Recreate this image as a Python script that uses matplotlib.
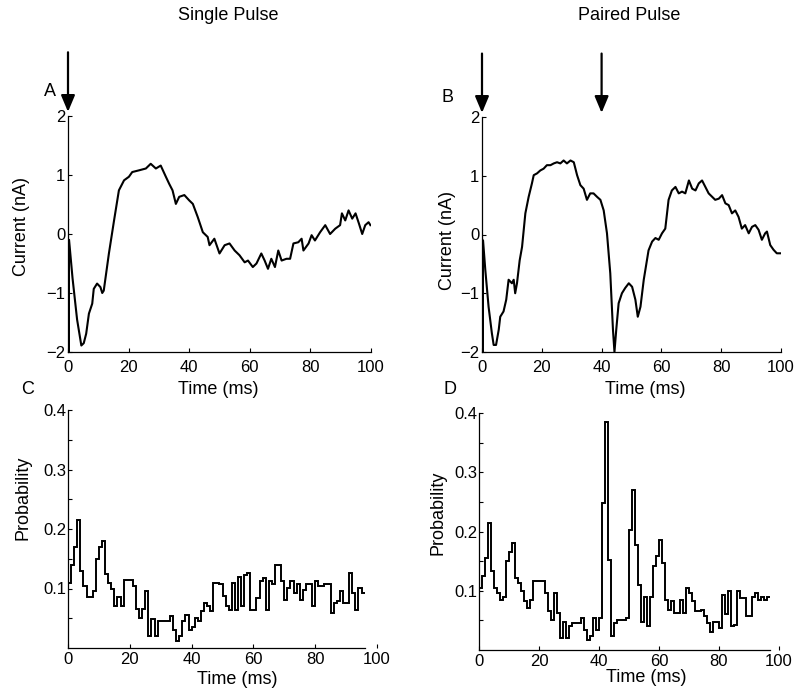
import numpy as np
import matplotlib
matplotlib.use('Agg')
import matplotlib.pyplot as plt

plt.rcParams['font.family'] = ['Liberation Sans', 'DejaVu Sans']

# ---- data ----
# A: single pulse current trace (ms, nA)
single_t = [0, 0.15, 0.35, 1.5, 3.0, 4.4, 5.2, 6.0, 6.9, 8.0, 8.5, 9.6, 10.7, 11.3, 11.8,
            13.5, 15.2, 16.8, 18.5, 20.1, 21.2, 23.5, 25.7, 27.3, 29.0, 30.6, 32.3, 33.4,
            34.5, 35.6, 36.7, 38.4, 40.0, 41.2, 42.8, 44.5, 46.1, 46.7, 48.3, 50.0, 51.7,
            53.3, 55.0, 56.6, 58.3, 59.4, 61.0, 62.2, 63.8, 64.9, 66.0, 67.1, 68.3, 69.4,
            70.5, 72.1, 73.3, 74.4, 76.0, 77.1, 77.7, 79.4, 80.4, 81.5, 83.2, 84.9, 86.5,
            88.2, 89.8, 90.4, 91.5, 92.6, 93.8, 94.9, 96.0, 97.1, 98.1, 99.2, 99.8]
single_i = [0, -2.0, -0.1, -0.75, -1.45, -1.89, -1.85, -1.69, -1.35, -1.18, -0.93, -0.84,
            -0.90, -1.00, -0.96, -0.33, 0.23, 0.74, 0.91, 0.97, 1.05, 1.08, 1.11, 1.19, 1.11,
            1.16, 0.97, 0.85, 0.74, 0.51, 0.63, 0.66, 0.57, 0.51, 0.29, 0.03, -0.05, -0.19,
            -0.08, -0.33, -0.19, -0.16, -0.28, -0.36, -0.48, -0.45, -0.56, -0.50, -0.33,
            -0.45, -0.59, -0.42, -0.56, -0.28, -0.45, -0.42, -0.42, -0.16, -0.14, -0.08,
            -0.28, -0.16, -0.02, -0.11, 0.03, 0.15, 0.0, 0.09, 0.15, 0.35, 0.23, 0.40, 0.26,
            0.35, 0.18, 0.0, 0.15, 0.20, 0.15]

# B: paired pulse current trace (ms, nA)
paired_t = [0, 0.15, 0.35, 1.1, 2.2, 3.3, 3.9, 4.7, 5.6, 6.1, 7.2, 8.1, 8.9, 10.0, 10.6,
            11.1, 11.7, 12.6, 13.4, 14.5, 15.6, 16.7, 17.3, 18.4, 19.5, 20.6, 21.7, 22.9,
            24.0, 25.1, 26.2, 27.3, 28.4, 29.6, 30.7, 31.8, 32.9, 34.0, 35.1, 36.2, 37.3,
            38.5, 39.6, 40.7, 41.8, 42.9, 43.8, 44.3, 44.9, 45.7, 46.8, 47.9, 49.1, 50.2,
            51.3, 52.1, 53.0, 54.1, 55.7, 56.9, 58.0, 59.1, 60.2, 61.3, 62.4, 63.5, 64.7,
            65.8, 66.9, 68.0, 69.2, 70.3, 71.4, 72.5, 73.6, 74.7, 75.8, 77.0, 78.0, 79.2,
            80.3, 81.4, 82.5, 83.6, 84.7, 85.8, 86.9, 88.0, 89.2, 90.3, 91.4, 92.5, 93.6,
            94.7, 95.3, 96.4, 97.5, 98.6, 99.8]
paired_i = [0, -2.0, -0.1, -0.60, -1.23, -1.68, -1.88, -1.88, -1.62, -1.40, -1.31, -1.11,
            -0.77, -0.83, -0.77, -1.00, -0.83, -0.44, -0.21, 0.36, 0.64, 0.87, 1.01, 1.04,
            1.09, 1.12, 1.18, 1.18, 1.21, 1.23, 1.21, 1.26, 1.21, 1.26, 1.23, 1.01, 0.84,
            0.78, 0.59, 0.70, 0.70, 0.64, 0.59, 0.41, 0.02, -0.66, -1.62, -2.0, -1.62,
            -1.17, -1.00, -0.91, -0.83, -0.89, -1.11, -1.40, -1.23, -0.77, -0.27, -0.12,
            -0.06, -0.09, 0.02, 0.10, 0.59, 0.75, 0.81, 0.70, 0.73, 0.70, 0.92, 0.78, 0.75,
            0.87, 0.92, 0.81, 0.70, 0.64, 0.59, 0.61, 0.67, 0.53, 0.50, 0.36, 0.41, 0.30,
            0.10, 0.16, 0.02, 0.13, 0.16, 0.08, -0.09, 0.02, 0.05, -0.18, -0.26, -0.32, -0.32]

# stimulus times (ms)
stim_single = [0]
stim_paired = [0, 40]

# C: spike probability, single pulse, 1 ms bins from 0 ms
single_prob = [0.110, 0.140, 0.170, 0.215, 0.130, 0.105, 0.085, 0.085, 0.095, 0.150,
               0.170, 0.180, 0.125, 0.110, 0.100, 0.070, 0.085, 0.070, 0.115, 0.115,
               0.115, 0.105, 0.065, 0.050, 0.065, 0.095, 0.020, 0.048, 0.020, 0.045,
               0.045, 0.045, 0.045, 0.053, 0.031, 0.011, 0.020, 0.045, 0.056, 0.031,
               0.036, 0.050, 0.045, 0.062, 0.076, 0.070, 0.062, 0.110, 0.110, 0.107,
               0.087, 0.070, 0.064, 0.109, 0.064, 0.120, 0.070, 0.123, 0.126, 0.064,
               0.064, 0.084, 0.112, 0.118, 0.064, 0.112, 0.107, 0.140, 0.140, 0.112,
               0.081, 0.101, 0.112, 0.093, 0.107, 0.081, 0.098, 0.107, 0.107, 0.070,
               0.112, 0.104, 0.104, 0.107, 0.107, 0.059, 0.076, 0.079, 0.095, 0.076,
               0.076, 0.126, 0.093, 0.064, 0.101, 0.093]

# D: spike probability, paired pulse, 1 ms bins from 0 ms
paired_prob = [0.105, 0.125, 0.155, 0.215, 0.133, 0.105, 0.096, 0.085, 0.090, 0.150,
               0.165, 0.180, 0.121, 0.113, 0.099, 0.082, 0.071, 0.085, 0.116, 0.116,
               0.116, 0.116, 0.096, 0.065, 0.051, 0.096, 0.062, 0.020, 0.048, 0.020,
               0.040, 0.046, 0.046, 0.046, 0.054, 0.034, 0.017, 0.023, 0.054, 0.034,
               0.054, 0.248, 0.385, 0.152, 0.023, 0.046, 0.051, 0.051, 0.051, 0.054,
               0.203, 0.270, 0.178, 0.110, 0.048, 0.090, 0.040, 0.090, 0.141, 0.158,
               0.186, 0.147, 0.085, 0.068, 0.082, 0.062, 0.062, 0.085, 0.062, 0.104,
               0.096, 0.082, 0.065, 0.065, 0.068, 0.057, 0.046, 0.031, 0.048, 0.048,
               0.037, 0.093, 0.060, 0.099, 0.040, 0.043, 0.099, 0.088, 0.088, 0.057,
               0.057, 0.090, 0.096, 0.085, 0.090, 0.085, 0.090]

time_ticks = [0, 20, 40, 60, 80, 100]

# ---- layout in pixels ----
W, H = 799, 696
fig = plt.figure(figsize=(W / 100, H / 100), dpi=100)


def box(l, t, r, b):
    return [l / W, 1 - b / H, (r - l) / W, (b - t) / H]


def fx(px):
    return px / W


def fy(py):
    return 1 - py / H


def style(ax):
    for s in ['top', 'right']:
        ax.spines[s].set_visible(False)
    for s in ['left', 'bottom']:
        ax.spines[s].set_linewidth(0.9)
    ax.tick_params(direction='in', length=3, width=0.8, labelsize=12)


axA = fig.add_axes(box(68, 116, 371, 352))
axB = fig.add_axes(box(482, 117, 781, 352))
axC = fig.add_axes(box(68, 410, 377, 648))
axD = fig.add_axes(box(479, 413, 779, 650))

# current traces
for ax, t, i, stims in [(axA, single_t, single_i, stim_single),
                        (axB, paired_t, paired_i, stim_paired)]:
    style(ax)
    ax.plot(t, i, color='black', lw=1.5)
    ax.set_xlim(0, 100)
    ax.set_ylim(-2, 2)
    ax.set_xticks(time_ticks)
    ax.set_yticks([-2, -1, 0, 1, 2])
    ax.set_yticklabels(['\u22122', '\u22121', '0', '1', '2'])
    ax.tick_params(axis='x', pad=6)
    ax.tick_params(axis='y', pad=2)
    for s in stims:
        ax.annotate('', xy=(s, 2.07), xytext=(s, 3.08),
                    arrowprops=dict(arrowstyle='-|>,head_length=1.0,head_width=0.42',
                                    lw=1.6, color='black', shrinkA=0, shrinkB=0),
                    annotation_clip=False)

axA.set_xlabel('Time (ms)', fontsize=13, va='center')
axA.xaxis.set_label_coords(fx(218), fy(390), transform=fig.transFigure)
axA.set_ylabel('Current (nA)', fontsize=13, va='center')
axA.yaxis.set_label_coords(fx(22), fy(226), transform=fig.transFigure)

axB.set_xlabel('Time (ms)', fontsize=13, va='center')
axB.xaxis.set_label_coords(fx(645), fy(390), transform=fig.transFigure)
axB.set_ylabel('Current (nA)', fontsize=13, va='center')
axB.yaxis.set_label_coords(fx(448), fy(240), transform=fig.transFigure)

# probability histograms
for ax, p, end in [(axC, single_prob, 96), (axD, paired_prob, 97)]:
    style(ax)
    edges = np.arange(len(p) + 1)
    ax.stairs(p, edges, baseline=None, color='black', lw=1.4)
    ax.set_xlim(0, 100)
    ax.set_ylim(0, 0.4)
    ax.set_xticks(time_ticks)
    ax.set_yticks([0.1, 0.2, 0.3, 0.4])
    ax.set_yticks([0.05, 0.15, 0.25, 0.35], minor=True)
    ax.tick_params(which='minor', direction='in', length=3, width=0.8)
    ax.tick_params(axis='x', pad=3)
    ax.tick_params(axis='y', pad=1)
    ax.spines['bottom'].set_bounds(0, end)

axC.set_xlabel('Time (ms)', fontsize=13, va='center')
axC.xaxis.set_label_coords(fx(237), fy(680), transform=fig.transFigure)
axC.set_ylabel('Probability', fontsize=13, va='center')
axC.yaxis.set_label_coords(fx(23), fy(498), transform=fig.transFigure)

axD.set_xlabel('Time (ms)', fontsize=13, va='center')
axD.xaxis.set_label_coords(fx(646), fy(677), transform=fig.transFigure)
axD.set_ylabel('Probability', fontsize=13, va='center')
axD.yaxis.set_label_coords(fx(438), fy(513), transform=fig.transFigure)

# titles and panel letters
fig.text(fx(228), fy(16), 'Single Pulse', ha='center', va='center', fontsize=13)
fig.text(fx(629), fy(16), 'Paired Pulse', ha='center', va='center', fontsize=13)
for letter, px, py in [('A', 50, 92), ('B', 447, 97), ('C', 28, 390), ('D', 450, 390)]:
    fig.text(fx(px), fy(py), letter, ha='center', va='center', fontsize=13)

fig.savefig('out.png', dpi=100)
